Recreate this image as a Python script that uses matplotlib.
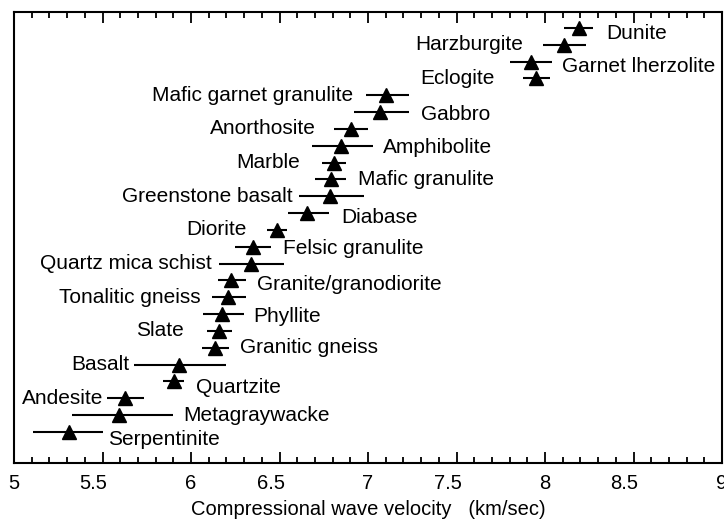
import matplotlib
matplotlib.use("Agg")
import matplotlib.pyplot as plt
import matplotlib.transforms as mtrans
from matplotlib.ticker import MultipleLocator

# ---- data ----
rocks = ["Dunite", "Harzburgite", "Garnet lherzolite", "Eclogite",
         "Mafic garnet granulite", "Gabbro", "Anorthosite", "Amphibolite",
         "Marble", "Mafic granulite", "Greenstone basalt", "Diabase",
         "Diorite", "Felsic granulite", "Quartz mica schist",
         "Granite/granodiorite", "Tonalitic gneiss", "Phyllite", "Slate",
         "Granitic gneiss", "Basalt", "Quartzite", "Andesite",
         "Metagraywacke", "Serpentinite"]
vp = [8.19, 8.11, 7.92, 7.95, 7.10, 7.065, 6.905, 6.845, 6.807, 6.79,
      6.783, 6.657, 6.484, 6.352, 6.337, 6.228, 6.209, 6.177, 6.158,
      6.136, 5.93, 5.903, 5.626, 5.594, 5.312]
vp_low = [8.105, 7.99, 7.80, 7.875, 6.99, 6.92, 6.81, 6.685, 6.74, 6.70,
          6.61, 6.55, 6.43, 6.247, 6.16, 6.153, 6.12, 6.07, 6.09, 6.06,
          5.68, 5.843, 5.525, 5.33, 5.11]
vp_high = [8.27, 8.23, 8.04, 8.03, 7.23, 7.23, 7.00, 7.03, 6.875, 6.875,
           6.976, 6.78, 6.544, 6.454, 6.525, 6.31, 6.31, 6.30, 6.234,
           6.215, 6.195, 5.963, 5.735, 5.90, 5.504]
xticks = [5, 5.5, 6, 6.5, 7, 7.5, 8, 8.5, 9]
xticklabels = ["5", "5.5", "6", "6.5", "7", "7.5", "8", "8.5", "9"]
xlabel = "Compressional wave velocity   (km/sec)"

# ---- layout (label placement, pixels) ----
side = ["R", "L", "R", "L", "L", "R", "L", "R", "L", "R", "L", "R", "L",
        "R", "L", "R", "L", "R", "L", "R", "L", "R", "L", "R", "R"]
gap = [13, 20, 10, 28, 13, 12, 19, 10, 22, 12, 6, 12, 20, 12, 8, 11, 12,
       9, 23, 11, 5, 12, 4, 10, 5]
dy = [6, 0, 5, 0, 0, 2, 0, 2, 0, 0, 0, 4, 0, 2, 0, 4, 0, 2, 0, 0, 0, 6,
      0, 0, 8]

plt.rcParams['font.family'] = ['Liberation Sans', 'DejaVu Sans']

W, H = 724, 522
fig = plt.figure(figsize=(W / 100, H / 100), dpi=100)
ax = fig.add_axes([14 / W, 1 - 463 / H, (722 - 14) / W, (463 - 12) / H])

ypos = list(range(len(rocks)))
xerr = [[v - lo for v, lo in zip(vp, vp_low)],
        [hi - v for v, hi in zip(vp, vp_high)]]
ax.errorbar(vp, ypos, xerr=xerr, fmt='^', color='black', ms=9.5,
            elinewidth=1.5, capsize=0, zorder=3)

for i, name in enumerate(rocks):
    if side[i] == "L":
        ax.annotate(name, xy=(vp_low[i], ypos[i]), xytext=(-gap[i], -dy[i]),
                    textcoords='offset pixels', ha='right', va='center',
                    fontsize=15)
    else:
        ax.annotate(name, xy=(vp_high[i], ypos[i]), xytext=(gap[i], -dy[i]),
                    textcoords='offset pixels', ha='left', va='center',
                    fontsize=15)

ax.set_xlim(5, 9)
ax.set_ylim(25.85, -0.95)
ax.set_yticks([])
ax.set_xticks(xticks)
ax.set_xticklabels(xticklabels, fontsize=14.5)
ax.xaxis.set_minor_locator(MultipleLocator(0.1))
ax.tick_params(axis='x', which='both', direction='in', top=True,
               bottom=True, width=1.3, pad=8)
ax.tick_params(axis='x', which='major', length=8)
ax.tick_params(axis='x', which='minor', length=4.5)
for s in ax.spines.values():
    s.set_linewidth(1.5)

off = mtrans.ScaledTranslation(-9 / 100, 0, fig.dpi_scale_trans)
for lab in ax.get_xticklabels():
    if '.' in lab.get_text():
        lab.set_transform(lab.get_transform() + off)

ax.set_xlabel(xlabel, fontsize=14.5, labelpad=5)

fig.savefig("out.png", dpi=100)
